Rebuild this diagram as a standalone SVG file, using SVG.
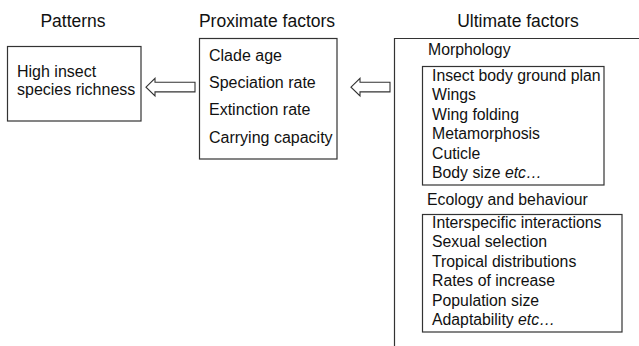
<svg xmlns="http://www.w3.org/2000/svg" width="639" height="346" viewBox="0 0 639 346">
<style>
text{font-family:"Liberation Sans",Arial,sans-serif;fill:#111}
.h{font-size:17.5px;text-anchor:middle}
.t{font-size:16px}
.s{font-size:15.8px}
.box{fill:#fff;stroke:#333;stroke-width:1.2}
.arrow{fill:#fff;stroke:#333;stroke-width:1.1;stroke-linejoin:miter}
.line{fill:none;stroke:#333;stroke-width:1.2}
</style>
<rect width="639" height="346" fill="#fff"/>
<g id="headers">
<text class="h" x="73" y="27">Patterns</text>
<text class="h" x="267" y="27">Proximate factors</text>
<text class="h" x="518" y="27">Ultimate factors</text>
</g>
<g id="patterns">
<rect class="box" x="7.5" y="46.5" width="133.5" height="74.5"/>
<text class="t" x="17" y="76.5">High insect</text>
<text class="t" x="17" y="95">species richness</text>
</g>
<g id="proximate">
<rect class="box" x="199.5" y="38.5" width="137.5" height="120.5"/>
<text class="t" x="209" y="61">Clade age</text>
<text class="t" x="209" y="88">Speciation rate</text>
<text class="t" x="209" y="115">Extinction rate</text>
<text class="t" x="209" y="142.5">Carrying capacity</text>
</g>
<g id="ultimate">
<path class="line" d="M394.5,346 V38.5 H639"/>
<text class="s" x="428" y="55">Morphology</text>
<text class="s" x="427" y="205">Ecology and behaviour</text>
</g>
<g id="morphology">
<rect class="box" x="422.5" y="66.5" width="181.5" height="118.5"/>
<text class="s" x="432" y="81">Insect body ground plan</text>
<text class="s" x="432" y="100.4">Wings</text>
<text class="s" x="432" y="119.8">Wing folding</text>
<text class="s" x="432" y="139.2">Metamorphosis</text>
<text class="s" x="432" y="158.6">Cuticle</text>
<text class="s" x="432" y="178">Body size <tspan font-style="italic">etc…</tspan></text>
</g>
<g id="ecology">
<rect class="box" x="422.5" y="214.5" width="199.5" height="117.5"/>
<text class="s" x="432" y="228">Interspecific interactions</text>
<text class="s" x="432" y="247.4">Sexual selection</text>
<text class="s" x="432" y="266.8">Tropical distributions</text>
<text class="s" x="432" y="286.2">Rates of increase</text>
<text class="s" x="432" y="305.6">Population size</text>
<text class="s" x="432" y="325">Adaptability <tspan font-style="italic">etc…</tspan></text>
</g>
<g id="connectors">
<polygon class="arrow" points="146,87.2 155,78.3 155,82.3 195,82.3 195,91.9 155,91.9 155,96"/>
<polygon class="arrow" points="351,87.2 360,78.3 360,82.3 390,82.3 390,91.9 360,91.9 360,96"/>
</g>
</svg>
